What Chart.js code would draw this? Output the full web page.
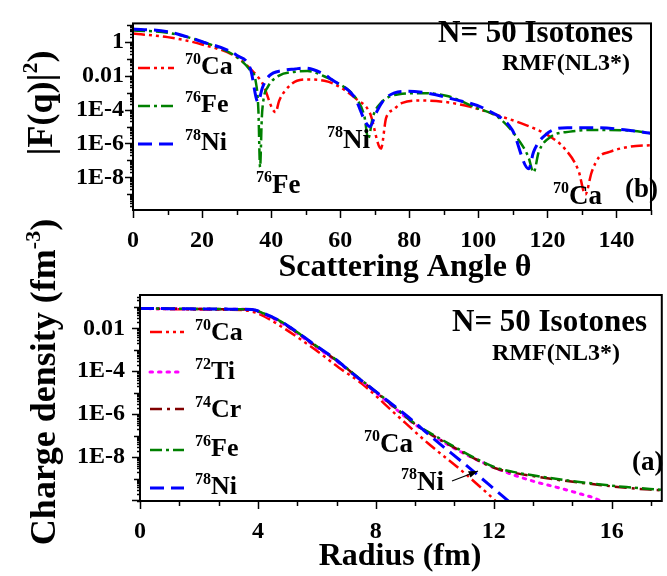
<!DOCTYPE html>
<html>
<head>
<meta charset="utf-8">
<script src="https://cdn.jsdelivr.net/npm/chart.js@4.4.1/dist/chart.umd.min.js"></script>
<style>
  body { margin: 0; background: #fff; }
  #wrap { position: relative; width: 667px; height: 576px; }
  canvas { position: absolute; left: 0; top: 0; }
</style>
</head>
<body>
<div id="wrap">
  <canvas id="formChart" width="667" height="576"></canvas>
  <canvas id="densityChart" width="667" height="576"></canvas>
</div>
<script>
// ---- (b) |F(q)|^2 vs scattering angle ----
const caAngle = [0, 10, 20, 30, 34, 37.5, 41.3, 42.3, 44, 47.5, 51, 55.4, 58.3, 64.8, 68.6, 71.8, 73.3, 75.5, 78, 83.6, 91, 97.7, 106, 113.6, 120, 125, 129, 131, 132.8, 135, 138, 143.5, 150];
const caFq = [3.0, 1.86, 0.69, 0.126, 0.025, 3.5e-3, 7e-5, 3.2e-4, 1.26e-3, 5e-3, 6e-3, 5e-3, 3.2e-3, 4e-4, 6.3e-5, 5e-7, 3.2e-5, 1e-4, 2.5e-4, 3.4e-4, 2.7e-4, 1.45e-4, 4.3e-5, 1.26e-5, 3.2e-6, 5e-7, 2.5e-8, 1e-9, 2e-8, 1.6e-7, 3.2e-7, 6.3e-7, 8e-7];
const feAngle = [0, 10, 20, 30, 34, 35.5, 36.3, 36.8, 37.3, 37.8, 39, 42.3, 47, 50.5, 56, 58, 64.8, 67, 68.1, 69.5, 71.8, 77, 83.6, 91, 98.7, 106, 111, 114.5, 116, 117.5, 121, 126.6, 135, 144.6, 150];
const feFq = [4.6, 3.4, 1.0, 0.126, 0.02, 5e-3, 1e-4, 4e-8, 3.2e-5, 4e-4, 2.1e-3, 0.01, 0.017, 0.019, 8e-3, 5e-3, 4e-4, 4e-5, 2e-6, 4e-5, 2.5e-4, 8e-4, 9.3e-4, 6.3e-4, 1.45e-4, 3.2e-5, 2.5e-6, 1.6e-7, 2e-8, 3.2e-7, 2.5e-6, 5e-6, 6.3e-6, 5.6e-6, 4e-6];
const niAngle = [0, 10, 20, 30, 34, 36.2, 37.5, 39.5, 43.2, 47, 49.8, 56, 57.3, 63.9, 68.6, 70.4, 72.8, 78.8, 83, 93, 102.3, 109.8, 114.6, 116, 120, 125.8, 135, 144.6, 150];
const niFq = [5.6, 3.9, 1.0, 0.16, 0.025, 2.8e-4, 2e-3, 0.01, 0.02, 0.025, 0.028, 0.01, 6.3e-3, 6.3e-4, 1e-5, 6.3e-5, 4e-4, 1.2e-3, 1.1e-3, 4e-4, 1e-4, 6.3e-6, 3.2e-8, 3.2e-7, 4e-6, 8.5e-6, 8.5e-6, 5.6e-6, 4e-6];

// ---- (a) charge density vs radius ----
const caRadius = [0, 1, 2, 3, 3.5, 4, 4.8, 5.96, 6.74, 7.52, 8.65, 9.78, 10.9, 11.8, 12.1];
const caRho = [0.083, 0.079, 0.076, 0.074, 0.071, 0.05, 0.012, 9.8e-4, 1.5e-4, 2.7e-5, 1.07e-6, 4.3e-8, 2.4e-9, 1.95e-10, 8e-11];
const tiRadius = [0, 1, 2, 3, 3.8, 4.2, 4.8, 5.96, 6.74, 7.52, 8.5, 9.33, 10, 10.68, 11.24, 12.25, 13.26, 14.38, 14.95, 15.44, 15.7];
const tiRho = [0.084, 0.082, 0.08, 0.078, 0.075, 0.045, 0.018, 1.4e-3, 2.5e-4, 3.5e-5, 2.8e-6, 3.3e-7, 8.9e-8, 2.5e-8, 1e-8, 2.4e-9, 8.1e-10, 3.2e-10, 1.9e-10, 1.2e-10, 8e-11];
const crRadius = [0, 1, 2, 3, 3.8, 4.2, 4.8, 5.96, 6.74, 7.52, 8.5, 9.33, 10, 10.68, 11.3, 12.03, 12.7, 13.37, 14.4, 15.4, 16.5, 17.7];
const crRho = [0.084, 0.082, 0.08, 0.078, 0.075, 0.048, 0.019, 1.5e-3, 2.7e-4, 3.6e-5, 3e-6, 3.4e-7, 9e-8, 2.7e-8, 9.2e-9, 3.1e-9, 1.85e-9, 1.28e-9, 7.9e-10, 5.4e-10, 3.7e-10, 2.8e-10];
const feRadius = [0, 1, 2, 3, 3.8, 4.2, 4.8, 5.96, 6.74, 7.52, 8.5, 9.33, 10, 10.68, 11.3, 12.03, 12.7, 13.37, 14.4, 15.4, 16.5, 17.7];
const feRho = [0.085, 0.083, 0.081, 0.079, 0.076, 0.05, 0.0204, 1.6e-3, 2.8e-4, 3.8e-5, 3.2e-6, 3.6e-7, 1e-7, 2.95e-8, 1e-8, 3.4e-9, 2e-9, 1.38e-9, 8.5e-10, 5.8e-10, 4e-10, 3e-10];
const niRadius = [0, 1, 2, 3, 3.8, 4.2, 4.8, 5.96, 6.74, 7.08, 8.09, 9.1, 10.1, 11.0, 11.8, 12.5];
const niRho = [0.085, 0.083, 0.081, 0.079, 0.076, 0.05, 0.0204, 1.6e-3, 2.8e-4, 1.1e-4, 9.1e-6, 7.4e-7, 5e-8, 4.9e-9, 5.8e-10, 8.9e-11];

// legend names (mass number, element)
const formMass = ['70', '76', '78'];
const formElem = ['Ca', 'Fe', 'Ni'];
const densityMass = ['70', '72', '74', '76', '78'];
const densityElem = ['Ca', 'Ti', 'Cr', 'Fe', 'Ni'];

const FONT = '"Liberation Serif", "Times New Roman", serif';
Chart.defaults.font.family = FONT;
Chart.defaults.font.weight = 'bold';
Chart.defaults.color = '#000';

const STYLE = {
  Ca: { color: '#ff0000', dash: [12, 4, 3, 4, 3, 4], width: 2.5, order: 4 },
  Ti: { color: '#ff00ff', dash: [2.5, 6], width: 3, order: 3 },
  Cr: { color: '#800000', dash: [12, 5, 3, 5], width: 2.5, order: 2 },
  Fe: { color: '#008000', dash: [12, 4, 3, 4], width: 2.5, order: 1 },
  Ni: { color: '#0000ff', dash: [14, 7], width: 3, order: 0 },
};

function series(elem, xs, ys) {
  const s = STYLE[elem];
  return {
    label: elem,
    data: xs.map((x, i) => ({ x, y: ys[i] })),
    borderColor: s.color,
    borderDash: s.dash,
    borderWidth: s.width,
    borderCapStyle: elem === 'Ti' ? 'round' : 'butt',
    order: s.order,
    pointRadius: 0,
    fill: false,
    cubicInterpolationMode: 'monotone',
  };
}

function logLabel(minExp) {
  return v => {
    const lg = Math.log10(v), r = Math.round(lg);
    if (Math.abs(lg - r) > 1e-6 || r % 2 !== 0 || r > 0 || r < minExp) return '';
    return r === 0 ? '1' : r === -2 ? '0.01' : '1E' + r;
  };
}

// text with a raised part, parts = [{t, sup}]
function rich(ctx, parts, x, y, size, center, rotate) {
  ctx.save();
  ctx.translate(x, y);
  if (rotate) ctx.rotate(-Math.PI / 2);
  ctx.textAlign = 'left';
  ctx.textBaseline = 'alphabetic';
  ctx.fillStyle = '#000';
  const small = Math.round(size * 0.6);
  let total = 0;
  parts.forEach(p => {
    ctx.font = `bold ${p.sup ? small : size}px ${FONT}`;
    p.w = ctx.measureText(p.t).width;
    total += p.w;
  });
  let cx = center ? -total / 2 : 0;
  const base = rotate ? size * 0.33 : 0;
  parts.forEach(p => {
    ctx.font = `bold ${p.sup ? small : size}px ${FONT}`;
    ctx.fillText(p.t, cx, base - (p.sup ? size * 0.4 : 0));
    cx += p.w;
  });
  ctx.restore();
}

function decor(cfg) {
  return {
    id: 'decor',
    afterDraw(chart) {
      const { ctx, chartArea: a } = chart;
      const xs = chart.scales.x, ys = chart.scales.y;
      ctx.save();
      ctx.strokeStyle = '#000';
      ctx.lineWidth = 1.5;
      // x ticks (outward, down)
      xs.ticks.forEach(t => {
        const px = Math.round(xs.getPixelForValue(t.value)) + 0.5;
        const len = cfg.xMajor(t.value) ? 8 : 5;
        ctx.beginPath(); ctx.moveTo(px, a.bottom); ctx.lineTo(px, a.bottom + len); ctx.stroke();
      });
      // y ticks (outward, left)
      ys.ticks.forEach(t => {
        const lg = Math.floor(Math.log10(t.value) + 1e-9);
        const s = t.value / Math.pow(10, lg);
        if (Math.abs(s - Math.round(s)) > 1e-4) return;
        const py = Math.round(ys.getPixelForValue(t.value)) + 0.5;
        let len = 3;
        if (Math.round(s) === 1 || Math.round(s) === 10) len = (lg % 2 === 0) ? 8 : 6;
        ctx.beginPath(); ctx.moveTo(a.left, py); ctx.lineTo(a.left - len, py); ctx.stroke();
      });
      ctx.lineWidth = 2;
      ctx.strokeRect(a.left, a.top, a.right - a.left, a.bottom - a.top);

      // legend samples
      cfg.legend.forEach(L => {
        const ds = chart.data.datasets[L.ds];
        ctx.save();
        ctx.strokeStyle = ds.borderColor;
        ctx.lineWidth = ds.borderWidth;
        ctx.lineCap = ds.borderCapStyle;
        ctx.setLineDash(ds.borderDash);
        ctx.beginPath(); ctx.moveTo(L.x0, L.y); ctx.lineTo(L.x1, L.y); ctx.stroke();
        ctx.restore();
        rich(ctx, [{ t: L.mass, sup: true }, { t: L.elem }], L.tx, L.tb, 26, false, false);
      });
      cfg.labels.forEach(T => rich(ctx, T.parts, T.x, T.y, T.size, !!T.center, !!T.rotate));
      if (cfg.arrow) {
        const [x0, y0, x1, y1] = cfg.arrow;
        ctx.lineWidth = 1.2;
        ctx.setLineDash([]);
        ctx.beginPath(); ctx.moveTo(x0, y0); ctx.lineTo(x1, y1); ctx.stroke();
        const ang = Math.atan2(y1 - y0, x1 - x0);
        ctx.beginPath();
        ctx.moveTo(x1, y1);
        ctx.lineTo(x1 - 10 * Math.cos(ang - 0.35), y1 - 10 * Math.sin(ang - 0.35));
        ctx.lineTo(x1 - 10 * Math.cos(ang + 0.35), y1 - 10 * Math.sin(ang + 0.35));
        ctx.closePath(); ctx.fill();
      }
      ctx.restore();
    }
  };
}

function baseOptions(pad, xCfg, yCfg) {
  return {
    responsive: false,
    animation: false,
    devicePixelRatio: 1,
    layout: { padding: pad },
    plugins: { legend: { display: false }, tooltip: { enabled: false } },
    scales: {
      x: Object.assign({
        type: 'linear',
        grid: { display: false, drawTicks: false },
        border: { display: false },
        afterFit: s => { s.height = 40; },
      }, xCfg),
      y: Object.assign({
        type: 'logarithmic',
        grid: { display: false, drawTicks: false },
        border: { display: false },
      }, yCfg),
    }
  };
}

// top panel (b)
new Chart(document.getElementById('formChart'), {
  type: 'line',
  data: { datasets: [series('Ca', caAngle, caFq), series('Fe', feAngle, feFq), series('Ni', niAngle, niFq)] },
  options: baseOptions({ left: 0, top: 5, right: 1, bottom: 326 },
    { min: 0, max: 150,
      ticks: { stepSize: 10, autoSkip: false, maxRotation: 0, padding: 16, font: { size: 24, weight: 'bold' },
               callback: v => (v % 20 === 0 ? String(v) : '') } },
    { min: 1.2e-10, max: 12,
      afterFit: s => { s.width = 133; },
      ticks: { autoSkip: false, padding: 9, font: { size: 24, weight: 'bold' }, callback: logLabel(-8) } }),
  plugins: [decor({
    xMajor: v => v % 20 === 0,
    legend: [
      { ds: 0, y: 68, x0: 138, x1: 174, tx: 185, tb: 74, mass: formMass[0], elem: formElem[0] },
      { ds: 1, y: 106, x0: 138, x1: 174, tx: 185, tb: 112, mass: formMass[1], elem: formElem[1] },
      { ds: 2, y: 144, x0: 138, x1: 174, tx: 185, tb: 150, mass: formMass[2], elem: formElem[2] },
    ],
    labels: [
      { parts: [{ t: '|F(q)|' }, { t: '2', sup: true }, { t: ')' }], x: 40, y: 103, size: 36, center: true, rotate: true },
      { parts: [{ t: 'Scattering Angle θ' }], x: 405, y: 276, size: 32, center: true },
      { parts: [{ t: 'N= 50 Isotones' }], x: 438, y: 42, size: 31 },
      { parts: [{ t: 'RMF(NL3*)' }], x: 502, y: 70, size: 24 },
      { parts: [{ t: '76', sup: true }, { t: 'Fe' }], x: 256, y: 193, size: 27 },
      { parts: [{ t: '78', sup: true }, { t: 'Ni' }], x: 327, y: 148, size: 27 },
      { parts: [{ t: '70', sup: true }, { t: 'Ca' }], x: 553, y: 204, size: 27 },
      { parts: [{ t: '(b)' }], x: 625, y: 197, size: 27 },
    ],
  })]
});

// bottom panel (a)
new Chart(document.getElementById('densityChart'), {
  type: 'line',
  data: { datasets: [
    series('Ca', caRadius, caRho), series('Ti', tiRadius, tiRho), series('Cr', crRadius, crRho),
    series('Fe', feRadius, feRho), series('Ni', niRadius, niRho)
  ] },
  options: baseOptions({ left: 0, top: 295, right: 1, bottom: 35 },
    { min: 0, max: 17.7,
      ticks: { stepSize: 4 / 3, includeBounds: false, autoSkip: false, maxRotation: 0, padding: 16, font: { size: 24, weight: 'bold' },
               callback: v => (Math.abs(v / 4 - Math.round(v / 4)) < 1e-6 ? String(Math.round(v)) : '') } },
    { min: 9e-11, max: 0.36,
      afterFit: s => { s.width = 140; },
      ticks: { autoSkip: false, padding: 15, font: { size: 24, weight: 'bold' }, callback: logLabel(-8) } }),
  plugins: [decor({
    xMajor: v => Math.abs(v / 4 - Math.round(v / 4)) < 1e-6,
    legend: [
      { ds: 0, y: 332, x0: 150, x1: 184, tx: 195, tb: 340, mass: densityMass[0], elem: densityElem[0] },
      { ds: 1, y: 372, x0: 150, x1: 184, tx: 195, tb: 379, mass: densityMass[1], elem: densityElem[1] },
      { ds: 2, y: 409, x0: 150, x1: 184, tx: 195, tb: 417, mass: densityMass[2], elem: densityElem[2] },
      { ds: 3, y: 450, x0: 150, x1: 184, tx: 195, tb: 456, mass: densityMass[3], elem: densityElem[3] },
      { ds: 4, y: 488, x0: 150, x1: 184, tx: 195, tb: 494, mass: densityMass[4], elem: densityElem[4] },
    ],
    labels: [
      { parts: [{ t: 'Charge density (fm' }, { t: '-3', sup: true }, { t: ')' }], x: 43, y: 382, size: 36, center: true, rotate: true },
      { parts: [{ t: 'Radius (fm)' }], x: 400, y: 565, size: 32, center: true },
      { parts: [{ t: 'N= 50 Isotones' }], x: 452, y: 331, size: 31 },
      { parts: [{ t: 'RMF(NL3*)' }], x: 492, y: 360, size: 24 },
      { parts: [{ t: '70', sup: true }, { t: 'Ca' }], x: 364, y: 452, size: 27 },
      { parts: [{ t: '78', sup: true }, { t: 'Ni' }], x: 401, y: 490, size: 27 },
      { parts: [{ t: '(a)' }], x: 632, y: 470, size: 27 },
    ],
    arrow: [452, 481, 478, 471],
  })]
});
</script>
</body>
</html>
